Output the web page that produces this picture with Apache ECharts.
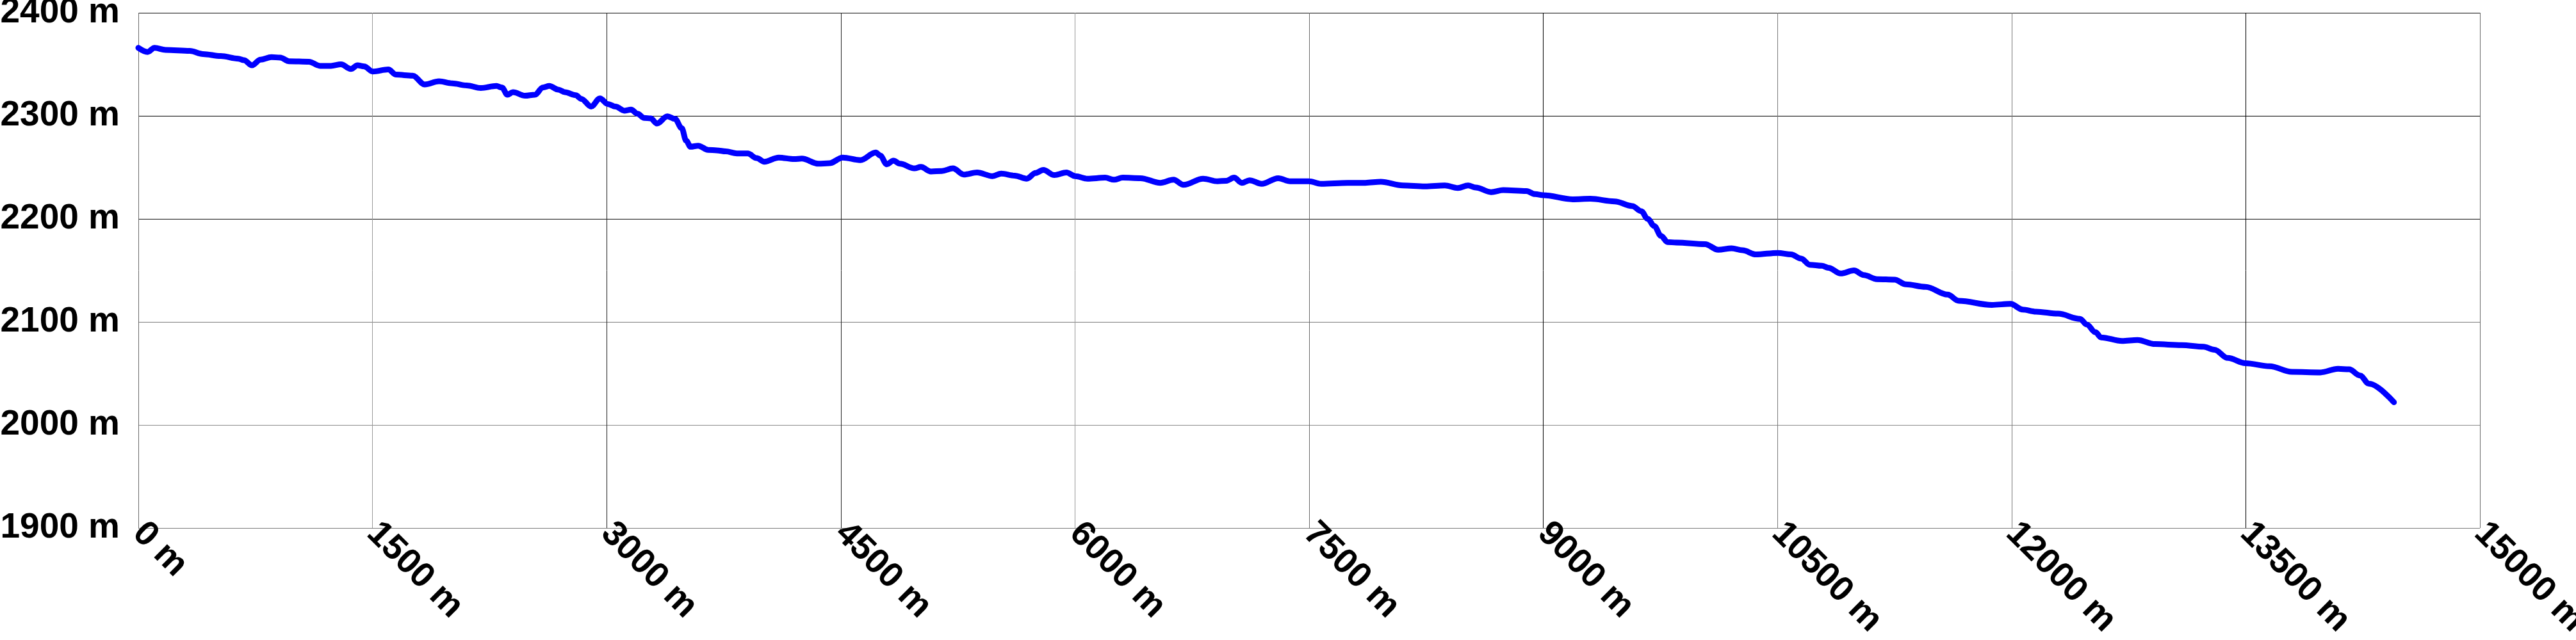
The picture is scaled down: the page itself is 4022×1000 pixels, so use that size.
<!DOCTYPE html>
<html>
<head>
<meta charset="utf-8">
<script src="https://cdn.jsdelivr.net/npm/echarts@6/dist/echarts.min.js"></script>
<style>
html,body{margin:0;padding:0;background:#fff;}
#chart{width:4022px;height:1000px;}
</style>
</head>
<body>
<div id="chart"></div>
<script>
// distance along the route (m)
const distance = [0,59,104,174,330,414,528,641,676,728,782,853,909,966,1093,1164,1234,1298,1361,1404,1446,1502,1601,1651,1757,1834,1926,2011,2103,2194,2294,2329,2364,2400,2477,2541,2591,2633,2689,2732,2802,2837,2901,2957,3007,3057,3113,3156,3198,3240,3282,3322,3389,3438,3481,3509,3537,3586,3650,3706,3763,3834,3904,3961,4010,4102,4201,4250,4357,4427,4512,4625,4724,4752,4794,4837,4879,4971,5013,5077,5147,5218,5288,5373,5472,5528,5614,5691,5748,5797,5868,5945,6002,6080,6193,6250,6306,6419,6547,6631,6695,6821,6913,6970,7019,7069,7118,7196,7302,7379,7499,7577,7747,7860,7959,8100,8242,8369,8453,8518,8567,8666,8743,8892,8948,8999,9188,9301,9457,9570,9627,9669,9711,9754,9796,9852,10036,10121,10206,10277,10361,10503,10587,10651,10707,10785,10827,10905,10990,11053,11138,11251,11322,11449,11590,11661,11873,11993,12071,12156,12297,12438,12481,12537,12573,12707,12806,12919,13088,13229,13299,13385,13497,13653,13795,13978,14091,14162,14232,14289,14449];
// elevation (m)
const elevation = [2366,2362,2366,2364,2363,2360,2358,2355.5,2354,2349,2354.5,2357,2356.5,2353,2352.5,2348.5,2348.5,2350,2345.5,2349,2348,2343,2345,2340,2339,2330.5,2333.5,2331.5,2329.5,2327,2329,2327.5,2320.5,2323,2319.5,2320.5,2327.5,2329,2325.5,2323,2320,2316.5,2309,2317,2311.5,2309,2305,2306,2302,2298,2297.5,2292.5,2299.5,2297,2288,2276,2270,2271,2267,2266.5,2265.5,2263.5,2263.5,2259,2255.5,2259.5,2258,2258.5,2253.5,2254,2259.5,2257,2264.5,2261.5,2253,2256.5,2253.5,2249,2250.5,2246,2246.5,2249,2243,2245,2241.5,2244,2242,2239,2244.5,2247.5,2242.5,2245,2241.5,2239,2240,2238,2240,2239.5,2235,2238,2233,2239,2236.5,2237,2240,2235,2237.5,2234,2239.5,2236.5,2236.5,2234,2235,2235,2236,2232.5,2231.5,2232.5,2230,2232.5,2230.5,2226,2228,2227,2224,2223,2219,2219.5,2217,2212.5,2207.5,2200,2193,2183.5,2177.5,2177,2175.5,2170,2171.5,2169.5,2165.5,2167,2165.5,2161.5,2155.5,2154.5,2152.5,2147,2150,2145.5,2141.5,2141,2136.5,2134,2126.5,2120.5,2116.5,2117.5,2112,2110,2108,2103,2097.5,2090,2085,2081.5,2082.5,2078.5,2077.5,2076,2073,2065,2060,2057,2051.5,2051,2054.5,2054,2048,2040,2022];
// tick values
const xTicks = [0,1500,3000,4500,6000,7500,9000,10500,12000,13500,15000];
const yTicks = [1900,2000,2100,2200,2300,2400];
const xGridColors = ['#6a6a6a','#999999','#222222','#222222','#999999','#6a6a6a','#000000','#7a7a7a','#7a7a7a','#000000','#6a6a6a'];
const yGridColors = ['#7a7a7a','#8a8a8a','#7a7a7a','#111111','#000000','#111111'];

const chart = echarts.init(document.getElementById('chart'), null, {renderer:'canvas'});
const seriesData = distance.map((d,i)=>[d, elevation[i]]);
const font = {fontFamily:'"Liberation Sans", Arial, sans-serif', fontSize:55, fontWeight:'bold', color:'#000'};

chart.setOption({
  animation:false,
  backgroundColor:'#ffffff',
  grid:{left:216, right:150, top:20, bottom:175, containLabel:false, outerBoundsMode:'none'},
  xAxis:{
    type:'value',
    min:xTicks[0], max:xTicks[xTicks.length-1], interval:xTicks[1]-xTicks[0],
    axisLine:{show:false}, axisTick:{show:false},
    splitLine:{show:true, showMinLine:true, showMaxLine:true, lineStyle:{color:xGridColors, width:1}},
    axisLabel:Object.assign({}, font, {
      rotate:-45, margin:0, padding:[24,0,0,0],
      showMinLabel:true, showMaxLabel:true, hideOverlap:false,
      formatter:(v)=>v+' m'
    })
  },
  yAxis:{
    type:'value',
    min:yTicks[0], max:yTicks[yTicks.length-1], interval:yTicks[1]-yTicks[0],
    axisLine:{show:false}, axisTick:{show:false},
    splitLine:{show:true, showMinLine:true, showMaxLine:true, lineStyle:{color:yGridColors, width:1}},
    axisLabel:Object.assign({}, font, {
      margin:29,
      formatter:(v)=>v+' m'
    })
  },
  series:[{
    type:'line',
    data:seriesData,
    showSymbol:false,
    smooth:0.35,
    smoothMonotone:'x',
    lineStyle:{color:'#0000ff', width:9, cap:'round', join:'round'},
    itemStyle:{color:'#0000ff'}
  }]
});
</script>
</body>
</html>
